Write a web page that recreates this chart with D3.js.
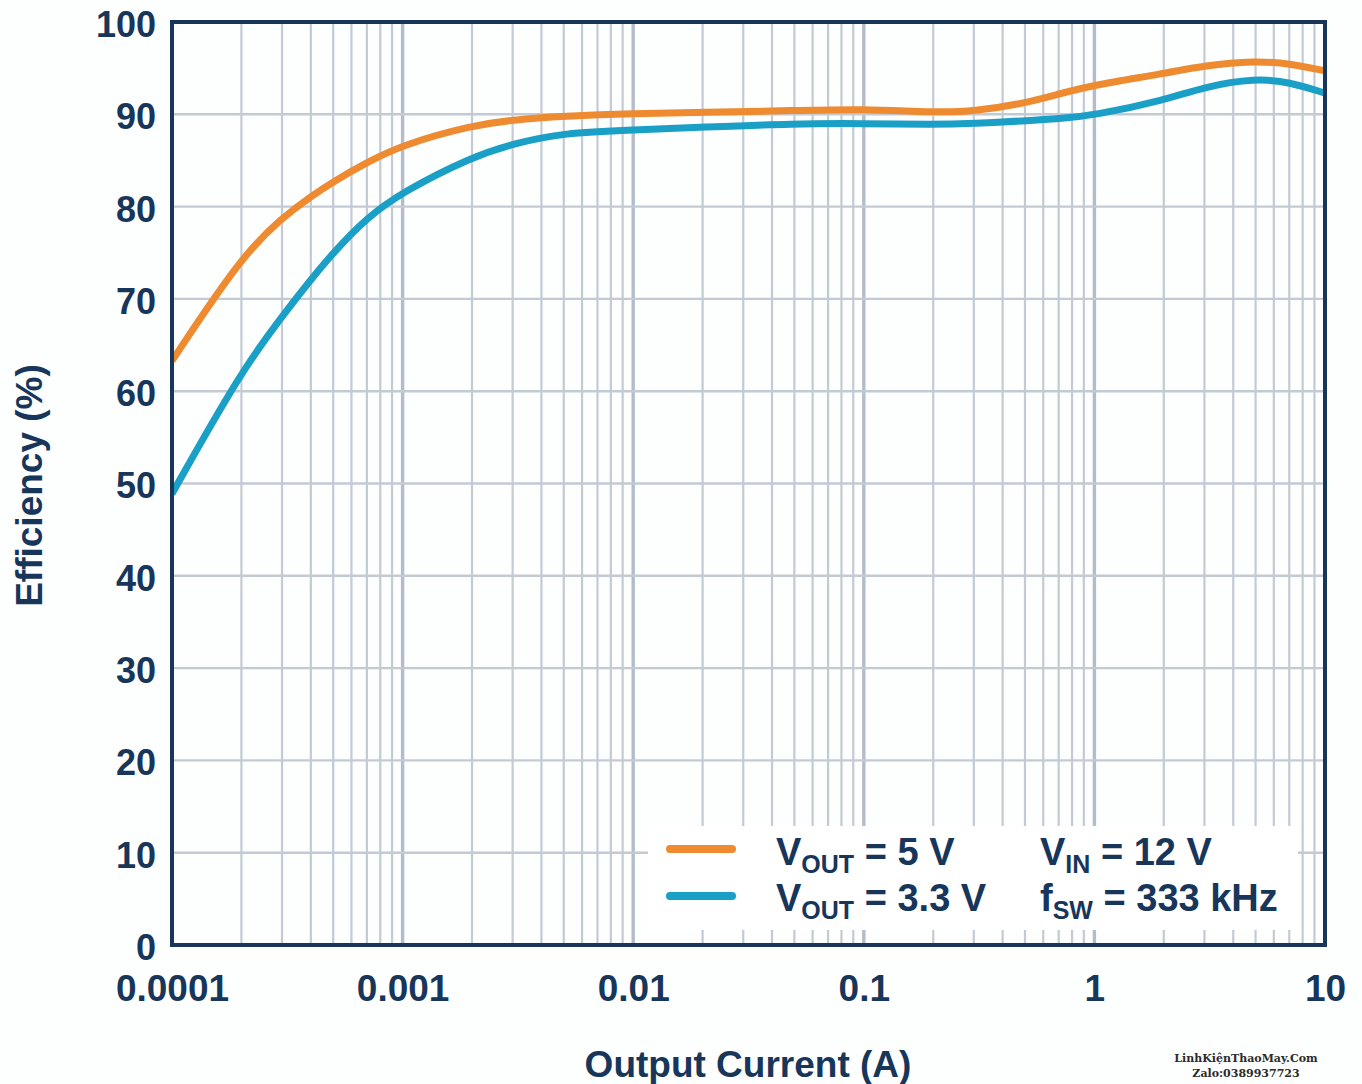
<!DOCTYPE html>
<html>
<head>
  <meta charset="UTF-8">
  <script src="https://d3js.org/d3.v7.min.js"></script>
</head>
<body style="margin:0;background:#fdfefe;">
  <div id="chartContainer">
    <svg id="chartSVG"></svg>
  </div>
<style>
  body { font-family: 'Liberation Sans', Arial, sans-serif; }
  .ticklabel { font-weight: bold; fill: #17365a; }
  .title { font-weight: bold; fill: #17365a; }
  .legendtext { font-weight: bold; fill: #17365a; }
</style>
<script type="text/javascript">
  // output current (A)
  const currents = [0.0001, 0.0002, 0.0003, 0.0004, 0.0005, 0.0007, 0.001, 0.002, 0.003, 0.005,
    0.01, 0.02, 0.05, 0.1, 0.2, 0.3, 0.5, 0.7, 1, 2, 3, 5, 7, 10];
  // efficiency (%) for VOUT = 5 V
  const eff5V = [63.3, 74.6, 78.8, 81.1, 82.7, 84.8, 86.7, 88.8, 89.4, 89.8,
    90.1, 90.2, 90.4, 90.6, 90.2, 90.3, 91.2, 92.2, 93.2, 94.4, 95.3, 95.8, 95.5, 94.7];
  // efficiency (%) for VOUT = 3.3 V
  const eff3V3 = [48.9, 62.2, 68.1, 72.1, 75.0, 78.8, 81.6, 85.4, 86.8, 88.0,
    88.3, 88.6, 89.0, 89.0, 88.9, 89.0, 89.3, 89.5, 89.9, 91.5, 93.0, 93.9, 93.5, 92.3];

  const xTicks = [0.0001, 0.001, 0.01, 0.1, 1, 10];
  const xTickLabels = ['0.0001', '0.001', '0.01', '0.1', '1', '10'];
  const yTicks = [0, 10, 20, 30, 40, 50, 60, 70, 80, 90, 100];

  const width = 1362, height = 1084;
  const margin = {top: 22, right: 37, bottom: 139, left: 172};
  const w = width - margin.left - margin.right;
  const h = height - margin.top - margin.bottom;

  const svg = d3.select('#chartSVG')
    .attr('width', width)
    .attr('height', height);

  const g = svg.append('g')
    .attr('transform', `translate(${margin.left},${margin.top})`);

  const x = d3.scaleLog().domain([0.0001, 10]).range([0, w]);
  const y = d3.scaleLinear().domain([0, 100]).range([h, 0]);

  // grid
  let minorX = [];
  for (let e = -4; e < 1; e++) {
    for (let k = 1; k <= 9; k++) minorX.push(k * Math.pow(10, e));
  }
  minorX.push(10);

  g.append('g')
    .selectAll('line')
    .data(minorX)
    .join('line')
    .attr('x1', d => x(d)).attr('x2', d => x(d))
    .attr('y1', 0).attr('y2', h)
    .attr('stroke', d => xTicks.includes(d) ? '#b4bccb' : '#c4cad4')
    .attr('stroke-width', d => xTicks.includes(d) ? 3.4 : 2.2);

  g.append('g')
    .selectAll('line')
    .data(yTicks)
    .join('line')
    .attr('x1', 0).attr('x2', w)
    .attr('y1', d => y(d)).attr('y2', d => y(d))
    .attr('stroke', '#c4cad4')
    .attr('stroke-width', 2.4);

  // curves
  const line = d3.line()
    .x((d, i) => x(currents[i]))
    .y(d => y(d))
    .curve(d3.curveBasis);

  svg.append('defs').append('clipPath').attr('id', 'plotclip')
    .append('rect').attr('width', w).attr('height', h);

  const curves = g.append('g').attr('clip-path', 'url(#plotclip)');
  curves.append('path')
    .datum(eff3V3)
    .attr('d', line)
    .attr('fill', 'none')
    .attr('stroke', '#1a9fc6')
    .attr('stroke-width', 7);
  curves.append('path')
    .datum(eff5V)
    .attr('d', line)
    .attr('fill', 'none')
    .attr('stroke', '#ee8b30')
    .attr('stroke-width', 7);

  // legend
  const legend = svg.append('g');
  legend.append('rect')
    .attr('x', 648).attr('y', 826)
    .attr('width', 650).attr('height', 104)
    .attr('fill', '#ffffff');
  legend.append('line')
    .attr('x1', 670).attr('x2', 732).attr('y1', 849).attr('y2', 849)
    .attr('stroke', '#ee8b30').attr('stroke-width', 8).attr('stroke-linecap', 'round');
  legend.append('line')
    .attr('x1', 670).attr('x2', 732).attr('y1', 896).attr('y2', 896)
    .attr('stroke', '#1a9fc6').attr('stroke-width', 8).attr('stroke-linecap', 'round');

  function subText(px, py, main, sub, rest) {
    const t = legend.append('text')
      .attr('class', 'legendtext')
      .attr('x', px).attr('y', py)
      .attr('font-size', '38px');
    t.append('tspan').text(main);
    t.append('tspan').attr('font-size', '25px').attr('dy', 8).text(sub);
    t.append('tspan').attr('dy', -8).text(rest);
  }
  subText(776, 865, 'V', 'OUT', ' = 5 V');
  subText(776, 911, 'V', 'OUT', ' = 3.3 V');
  subText(1040, 865, 'V', 'IN', ' = 12 V');
  subText(1040, 911, 'f', 'SW', ' = 333 kHz');

  // frame
  g.append('rect')
    .attr('width', w).attr('height', h)
    .attr('fill', 'none')
    .attr('stroke', '#17365a')
    .attr('stroke-width', 4);

  // axes
  const xAxis = g.append('g')
    .attr('transform', `translate(0,${h})`)
    .call(d3.axisBottom(x).tickValues(xTicks).tickSize(0)
      .tickFormat((d, i) => xTickLabels[i]));
  xAxis.select('.domain').remove();
  xAxis.selectAll('text')
    .attr('class', 'ticklabel')
    .attr('font-family', 'Liberation Sans, Arial, sans-serif')
    .attr('font-size', '37px')
    .attr('dy', 0)
    .attr('y', 56);

  const yAxis = g.append('g')
    .call(d3.axisLeft(y).tickValues(yTicks).tickSize(0));
  yAxis.select('.domain').remove();
  yAxis.selectAll('text')
    .attr('class', 'ticklabel')
    .attr('font-family', 'Liberation Sans, Arial, sans-serif')
    .attr('font-size', '36px')
    .attr('x', -16)
    .attr('dy', '0.4em');

  // titles
  svg.append('text')
    .attr('class', 'title')
    .attr('font-size', '37px')
    .attr('text-anchor', 'middle')
    .attr('transform', `translate(42,${margin.top + h / 2 + 2}) rotate(-90)`)
    .text('Efficiency (%)');
  svg.append('text')
    .attr('class', 'title')
    .attr('font-size', '37px')
    .attr('text-anchor', 'middle')
    .attr('x', 748).attr('y', 1077)
    .text('Output Current (A)');

  // watermark
  const wm = svg.append('g')
    .attr('font-family', 'DejaVu Serif, serif')
    .attr('font-weight', 'bold')
    .attr('font-size', '11px')
    .attr('fill', '#2a2a2a')
    .attr('text-anchor', 'middle');
  wm.append('text').attr('x', 1246).attr('y', 1062).text('LinhKiệnThaoMay.Com');
  wm.append('text').attr('x', 1246).attr('y', 1077).text('Zalo:0389937723');
</script>
</body>
</html>
